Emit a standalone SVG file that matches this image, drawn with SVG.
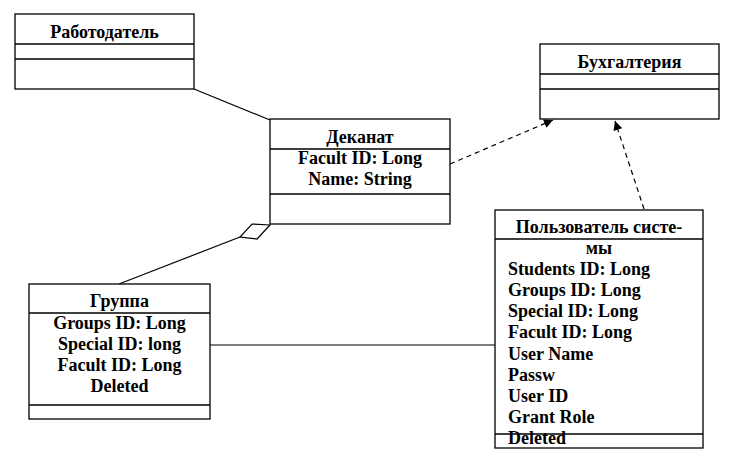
<svg xmlns="http://www.w3.org/2000/svg" width="735" height="461" viewBox="0 0 735 461">
<defs>
<style>
.box{fill:#fff;stroke:#000;stroke-width:1.3}
.sep{stroke:#000;stroke-width:1.3}
.ln{stroke:#000;stroke-width:1.2;fill:none}
.dash{stroke:#000;stroke-width:1.2;fill:none;stroke-dasharray:5,4}
text{font-family:"Liberation Serif","Times New Roman",serif;font-weight:bold;font-size:18px;fill:#000}
.c{text-anchor:middle}
</style>
<marker id="arr" viewBox="0 0 10 10" refX="10" refY="5" markerWidth="10" markerHeight="9" markerUnits="userSpaceOnUse" orient="auto">
<path d="M0,0 L10,5 L0,10 Z" fill="#000"/>
</marker>
</defs>
<rect width="735" height="461" fill="#fff"/>
<g id="connectors">
<line class="ln" x1="194" y1="89" x2="270" y2="120"/>
<line class="dash" x1="450" y1="164" x2="553" y2="120" marker-end="url(#arr)"/>
<line class="dash" x1="644" y1="209" x2="615" y2="121" marker-end="url(#arr)"/>
<line class="ln" x1="210" y1="345" x2="495" y2="345"/>
<line class="ln" x1="119" y1="284" x2="240" y2="237"/>
<polygon class="ln" points="270,225 252,224 240,237 257,239" fill="#fff"/>
</g>
<g id="rabotodatel">
<rect class="box" x="15" y="14" width="179" height="75"/>
<line class="sep" x1="15" y1="44" x2="194" y2="44"/>
<line class="sep" x1="15" y1="59" x2="194" y2="59"/>
<text class="c" x="104.5" y="38">Работодатель</text>
</g>
<g id="dekanat">
<rect class="box" x="270" y="119" width="180" height="105"/>
<line class="sep" x1="270" y1="149" x2="450" y2="149"/>
<line class="sep" x1="270" y1="194" x2="450" y2="194"/>
<text class="c" x="360" y="143">Деканат</text>
<text class="c" x="360" y="164">Facult ID: Long</text>
<text class="c" x="360" y="185">Name: String</text>
</g>
<g id="buhgalteria">
<rect class="box" x="540" y="44" width="179" height="75"/>
<line class="sep" x1="540" y1="74" x2="719" y2="74"/>
<line class="sep" x1="540" y1="89" x2="719" y2="89"/>
<text class="c" x="629.5" y="68">Бухгалтерия</text>
</g>
<g id="gruppa">
<rect class="box" x="29" y="284" width="181" height="135"/>
<line class="sep" x1="29" y1="313" x2="210" y2="313"/>
<line class="sep" x1="29" y1="405" x2="210" y2="405"/>
<text class="c" x="119.5" y="307">Группа</text>
<text class="c" x="119.5" y="329">Groups ID: Long</text>
<text class="c" x="119.5" y="350">Special ID: long</text>
<text class="c" x="119.5" y="371">Facult ID: Long</text>
<text class="c" x="119.5" y="392">Deleted</text>
</g>
<g id="polzovatel">
<rect class="box" x="495" y="210" width="208" height="238"/>
<line class="sep" x1="495" y1="239" x2="703" y2="239"/>
<text class="c" x="599" y="233">Пользователь систе-</text>
<text class="c" x="599" y="254">мы</text>
<text x="508" y="275">Students ID: Long</text>
<text x="508" y="296">Groups ID: Long</text>
<text x="508" y="317">Special ID: Long</text>
<text x="508" y="338">Facult ID: Long</text>
<text x="508" y="360">User Name</text>
<text x="508" y="381">Passw</text>
<text x="508" y="402">User ID</text>
<text x="508" y="423">Grant Role</text>
<text x="508" y="444">Deleted</text>
<line class="sep" x1="495" y1="434" x2="703" y2="434"/>
</g>
</svg>
